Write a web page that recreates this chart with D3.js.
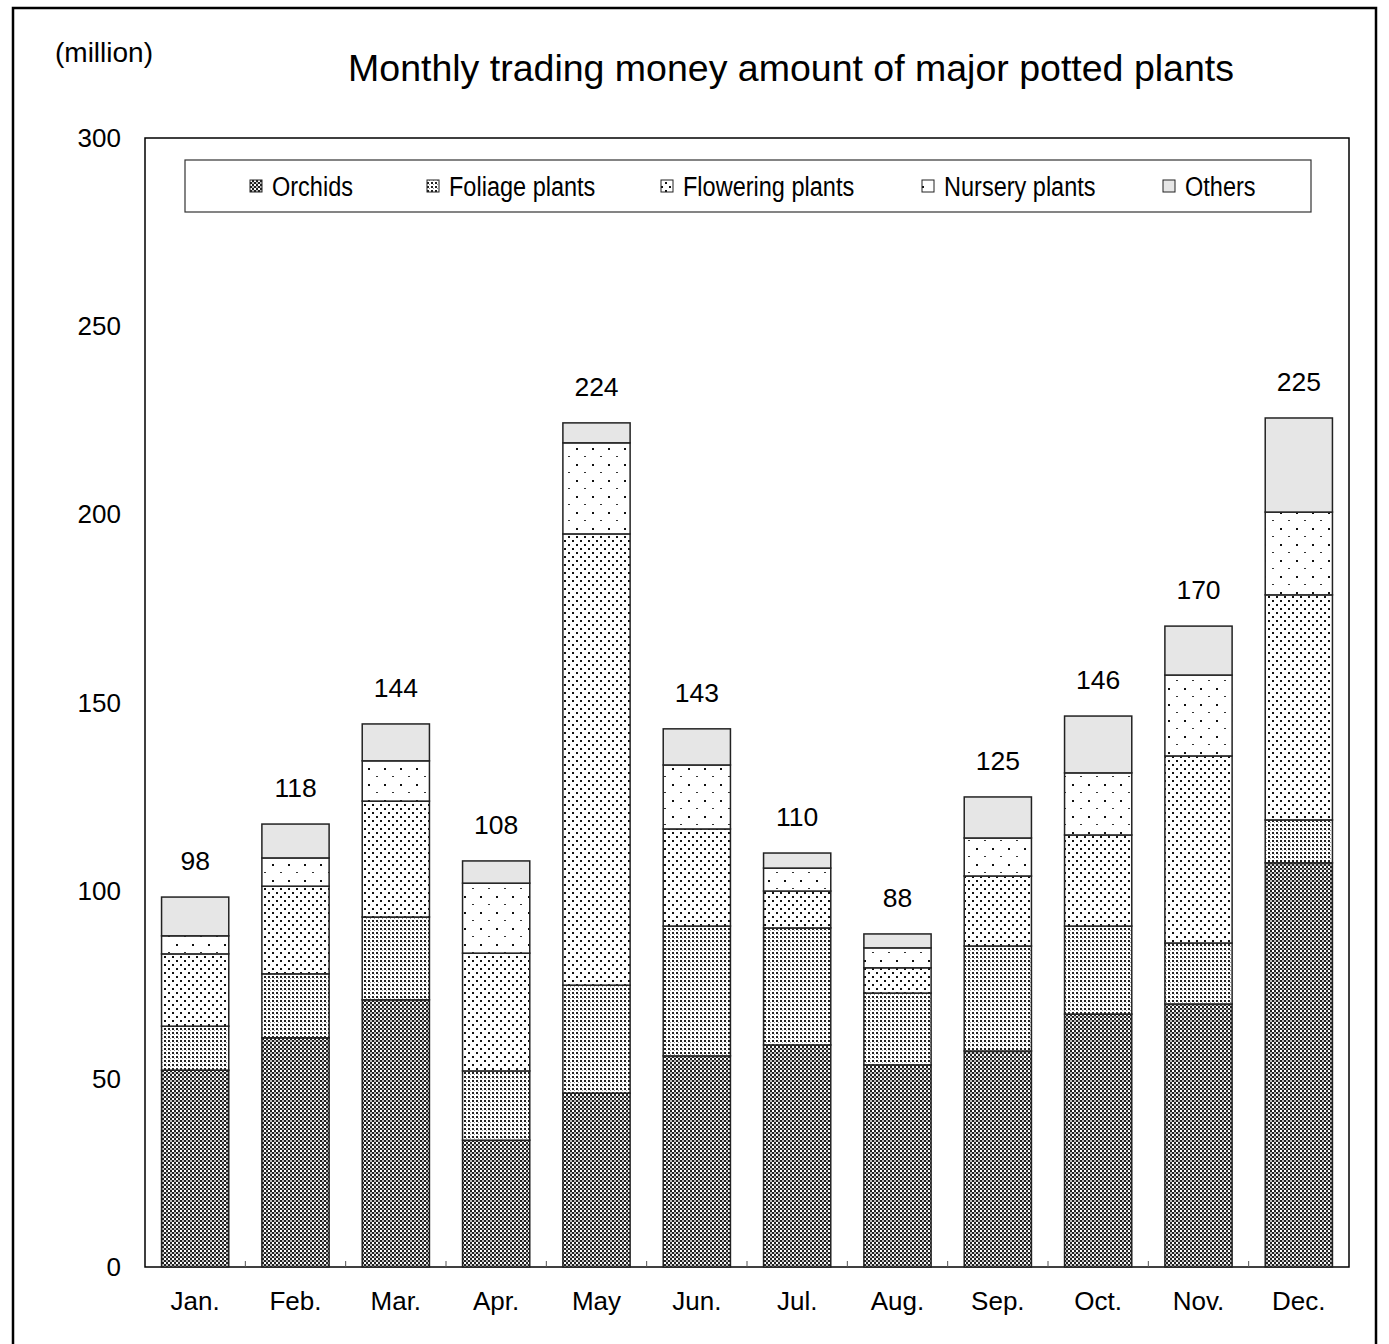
<!DOCTYPE html>
<html><head><meta charset="utf-8">
<script src="https://cdn.jsdelivr.net/npm/d3@7"></script>
<style>body{margin:0;background:#fff}</style>
</head><body>
<script>
const months = ["Jan.","Feb.","Mar.","Apr.","May","Jun.","Jul.","Aug.","Sep.","Oct.","Nov.","Dec."];
const seriesNames = ["Orchids","Foliage plants","Flowering plants","Nursery plants","Others"];
const orchids   = [52.3,60.9,71.0,33.7,46.2,56.1,59.0,53.7,57.4,67.2,69.9,107.4];
const foliage   = [11.7,17.0,22.0,18.4,28.7,34.5,31.1,19.1,27.9,23.4,16.2,11.4];
const flowering = [19.2,23.3,30.8,31.3,119.9,25.8,9.8,6.7,18.6,24.2,49.7,59.8];
const nursery   = [4.8,7.5,10.7,18.6,24.2,17.0,6.1,5.3,10.1,16.5,21.5,22.0];
const others    = [10.3,9.0,9.8,5.9,5.3,9.6,4.0,3.7,10.9,15.1,13.0,25.0];
const totalLabels = [98,118,144,108,224,143,110,88,125,146,170,225];
const yTicks = [0,50,100,150,200,250,300];

const W = 1389, H = 1344;
const svg = d3.select("body").append("svg").attr("width", W).attr("height", H);
const defs = svg.append("defs");

function pat(id, size, bg, rects) {
  const p = defs.append("pattern").attr("id", id).attr("patternUnits","userSpaceOnUse")
    .attr("width", size[0]).attr("height", size[1]);
  p.append("rect").attr("width", size[0]).attr("height", size[1]).attr("fill", bg);
  rects.forEach(r => p.append("rect").attr("x", r[0]).attr("y", r[1]).attr("width", r[2]).attr("height", r[3]).attr("fill", r[4] || "#000"));
}
pat("p0", [4,4], "#fff", [[0,0,2,2,"#222"],[2,2,2,2,"#222"],[2,0,2,2,"#bbb"]]);
pat("p1", [4,4], "#fff", [[0,0,2,2,"#222"],[2,2,1,1,"#999"]]);
pat("p2", [8,8], "#fff", [[0,0,2,2,"#111"],[4,4,2,2,"#111"]]);
pat("p3", [16,16], "#fff", [[0,0,2,2,"#111"],[8,8,2,1,"#333"]]);
const fills = ["url(#p0)","url(#p1)","url(#p2)","url(#p3)","#e6e6e6"];

// outer frame
svg.append("rect").attr("x",13).attr("y",8).attr("width",1363).attr("height",1350)
  .attr("fill","none").attr("stroke","#000").attr("stroke-width",2.5);

const font = "Arial, 'Liberation Sans', sans-serif";

svg.append("text").attr("x",55).attr("y",62).attr("font-family",font).attr("font-size",28).text("(million)");
svg.append("text").attr("x",791).attr("y",81).attr("text-anchor","middle").attr("font-family",font).attr("font-size",37.5).text("Monthly trading money amount of major potted plants");

const x0 = 145, x1 = 1349, y0 = 1267, y1 = 138;
const x = d3.scaleBand().domain(months).range([x0, x1]).paddingInner(0.33).paddingOuter(0.165);
const y = d3.scaleLinear().domain([0,300]).range([y0, y1]);

const data = months.map((m,i) => ({month:m, Orchids:orchids[i], "Foliage plants":foliage[i], "Flowering plants":flowering[i], "Nursery plants":nursery[i], Others:others[i]}));
const stack = d3.stack().keys(seriesNames)(data);

// plot frame
svg.append("rect").attr("x",x0).attr("y",y1).attr("width",x1-x0).attr("height",y0-y1)
  .attr("fill","none").attr("stroke","#000").attr("stroke-width",1.5);

// y axis labels
svg.append("g").selectAll("text").data(yTicks).join("text")
  .attr("x",121).attr("y",d=>y(d)+9).attr("text-anchor","end")
  .attr("font-family",font).attr("font-size",26).text(d=>d);

// x ticks between categories
const step = x.step();
svg.append("g").selectAll("line").data(d3.range(1,12)).join("line")
  .attr("x1",d=>x0+d*step).attr("x2",d=>x0+d*step).attr("y1",y0).attr("y2",y0-6)
  .attr("stroke","#555").attr("stroke-width",1);

// bars
stack.forEach((s,k) => {
  svg.append("g").selectAll("rect").data(s).join("rect")
    .attr("x",d=>x(d.data.month)).attr("width",x.bandwidth())
    .attr("y",d=>y(d[1])).attr("height",d=>y(d[0])-y(d[1]))
    .attr("fill",fills[k]).attr("stroke","#222").attr("stroke-width",1.5);
});

// total labels
svg.append("g").selectAll("text").data(months).join("text")
  .attr("x",d=>x(d)+x.bandwidth()/2).attr("y",(d,i)=>y(stack[4][i][1])-27)
  .attr("text-anchor","middle").attr("font-family",font).attr("font-size",26.5)
  .text((d,i)=>totalLabels[i]);

// month labels
svg.append("g").selectAll("text").data(months).join("text")
  .attr("x",d=>x(d)+x.bandwidth()/2).attr("y",1310)
  .attr("text-anchor","middle").attr("font-family",font).attr("font-size",26).text(d=>d);

// legend
svg.append("rect").attr("x",185).attr("y",160).attr("width",1126).attr("height",52)
  .attr("fill","#fff").attr("stroke","#333").attr("stroke-width",1.2);
const legX = [250,427,661,922,1163];
const lg = svg.append("g").selectAll("g").data(seriesNames).join("g")
  .attr("transform",(d,i)=>`translate(${legX[i]},186)`);
lg.append("rect").attr("x",0).attr("y",-6).attr("width",12).attr("height",12)
  .attr("fill",(d,i)=>fills[i]).attr("stroke","#222").attr("stroke-width",1);
lg.append("text").attr("transform","translate(22,10) scale(0.84,1)")
  .attr("font-family",font).attr("font-size",28).text(d=>d);
</script>
</body></html>
